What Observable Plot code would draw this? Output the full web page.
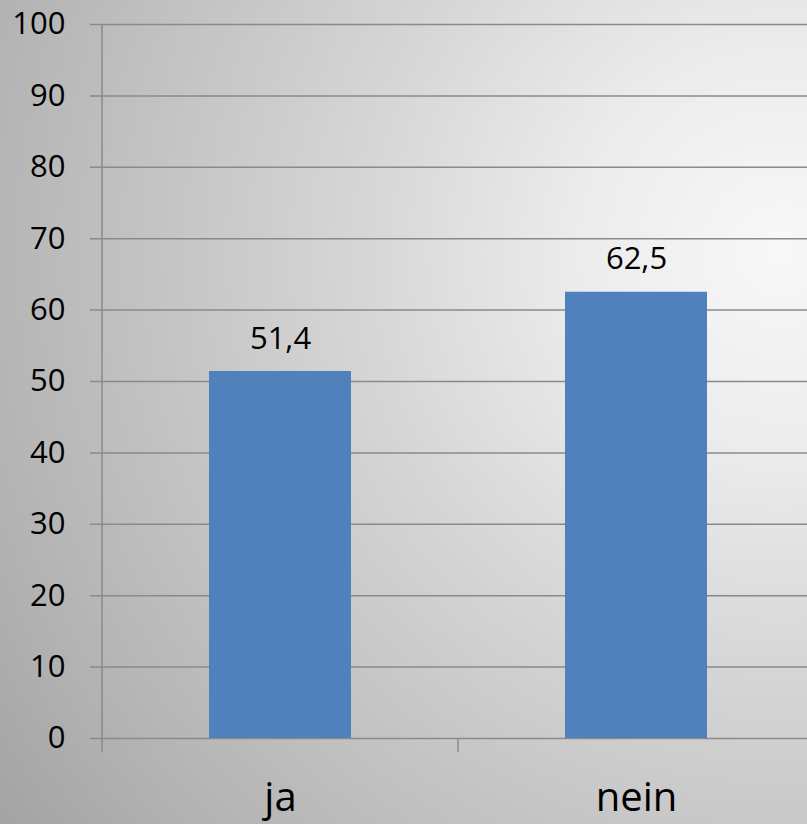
<!DOCTYPE html>
<html><head><meta charset="utf-8">
<script src="https://cdn.jsdelivr.net/npm/d3@7"></script>
<script src="https://cdn.jsdelivr.net/npm/@observablehq/plot@0.6"></script>
<style>
html,body{margin:0;padding:0;}
body{width:807px;height:824px;overflow:hidden;
background:radial-gradient(circle at 780px 250px,#f8f8f8 0px,#ececec 200px,#d6d6d6 420px,#b4b4b4 800px,#a0a0a0 1000px);}
</style></head><body><div id="chart"></div>
<script>
const categories = ["ja", "nein"];
const values = [51.4, 62.5];
const yTicks = [0, 10, 20, 30, 40, 50, 60, 70, 80, 90, 100];
const data = categories.map((c, i) => ({category: c, value: values[i]}));

const W = 807, H = 824, mL = 102, mT = 24, mB = 86;
const xRange = [102, 814], pI = 0.6, pO = 0.3;
const gridColor = "#8a8a8a";
const font = "'Open Sans', sans-serif";

const plot = Plot.plot({
  width: W, height: H,
  marginLeft: mL, marginRight: 0, marginTop: mT, marginBottom: mB,
  style: {background: "transparent", fontFamily: font, color: "black", overflow: "visible"},
  x: {domain: categories, range: xRange, paddingInner: pI, paddingOuter: pO, axis: null, label: null},
  y: {domain: [0, 100], axis: null, label: null},
  marks: [
    Plot.ruleY(yTicks, {stroke: gridColor, strokeWidth: 1.5, insetLeft: -12}),
    Plot.barY(data, {x: "category", y: "value", fill: "#4f81bd"}),
    Plot.text(data, {x: "category", y: "value",
      text: d => d.value.toFixed(1).replace(".", ","),
      lineAnchor: "bottom", dy: -23, fontSize: 31, fill: "black"}),
    Plot.axisY(yTicks, {tickSize: 0, tickPadding: 37, fontSize: 31, fill: "black", label: null}),
    Plot.axisX({tickSize: 0, tickPadding: 44, fontSize: 40, fill: "black", label: null})
  ]
});
document.getElementById("chart").append(plot);

// vertical axis line and category boundary ticks, derived from the same scales
const xs = d3.scaleBand(categories, xRange).paddingInner(pI).paddingOuter(pO);
const ys = d3.scaleLinear([0, 100], [H - mB, mT]);
const half = (xs.step() - xs.bandwidth()) / 2;
const bounds = categories.map(c => xs(c) - half);
bounds.push(bounds[bounds.length - 1] + xs.step());
const svg = d3.select(plot);
const g = svg.append("g").attr("stroke", gridColor).attr("stroke-width", 1.5);
g.append("line").attr("x1", bounds[0]).attr("x2", bounds[0])
  .attr("y1", ys(100)).attr("y2", ys(0) + 14);
bounds.slice(1).forEach(b => {
  g.append("line").attr("x1", b).attr("x2", b).attr("y1", ys(0)).attr("y2", ys(0) + 14);
});
</script>
</body></html>
